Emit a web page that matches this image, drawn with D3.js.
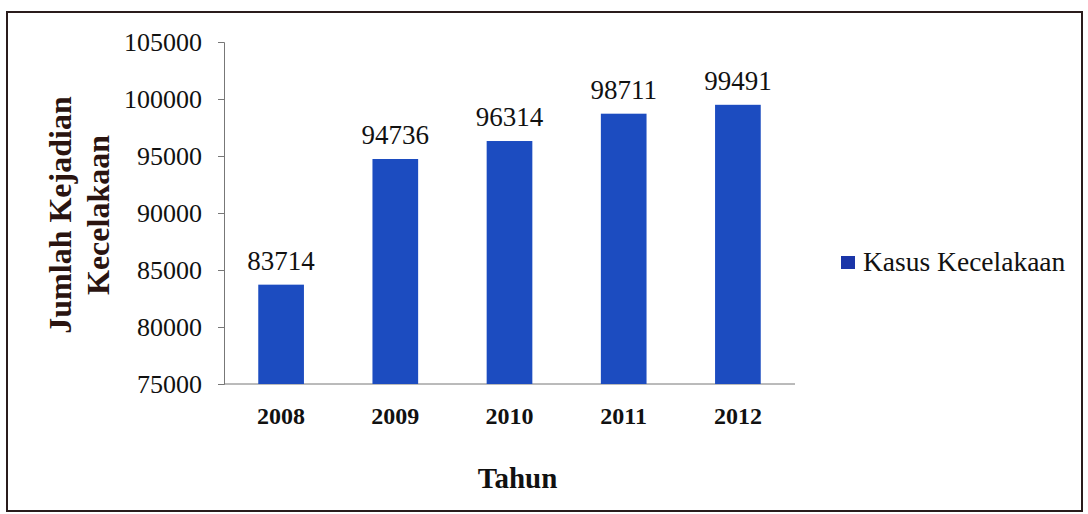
<!DOCTYPE html>
<html><head><meta charset="utf-8">
<script src="https://cdn.jsdelivr.net/npm/d3@7"></script>
<style>body{margin:0;background:#fff}svg{display:block}</style>
</head><body>
<svg id="c" width="1088" height="514"></svg>
<script>
const years = ["2008","2009","2010","2011","2012"];
const cases = [83714, 94736, 96314, 98711, 99491];
const yTicks = [75000, 80000, 85000, 90000, 95000, 100000, 105000];
const seriesName = "Kasus Kecelakaan";
const xTitle = "Tahun";
const yTitleLines = ["Jumlah Kejadian", "Kecelakaan"];

(function(){
const svg = d3.select("#c");
const font = "'Liberation Serif','Times New Roman',serif";
const barColor = "#1c4cc0";

svg.append("rect").attr("x",7).attr("y",12).attr("width",1075).attr("height",499)
  .attr("fill","#fff").attr("stroke","#2a1c1c").attr("stroke-width",2);

const pl = 224, pr = 795, pt = 42, pb = 384;
const x = d3.scaleBand().domain(years).range([pl,pr]).paddingInner(0.6).paddingOuter(0.3);
const y = d3.scaleLinear().domain([75000,105000]).range([pb,pt]);

const yAxis = svg.append("g").attr("transform",`translate(${pl},0)`)
  .call(d3.axisLeft(y).tickValues(yTicks).tickSize(6).tickPadding(16).tickFormat(d3.format("d")));
yAxis.select(".domain").attr("stroke","#777");
yAxis.selectAll(".tick line").attr("stroke","#777");
yAxis.selectAll("text").attr("font-family",font).attr("font-size",26).attr("fill","#111");

const xAxis = svg.append("g").attr("transform",`translate(0,${pb})`)
  .call(d3.axisBottom(x).tickSize(0).tickPadding(23).tickSizeOuter(0));
xAxis.select(".domain").attr("stroke","#777").attr("d",`M${pl},0H${pr}`);
xAxis.selectAll("text").attr("font-family",font).attr("font-size",24).attr("font-weight","bold").attr("fill","#111");

svg.append("g").selectAll("rect").data(years).join("rect")
  .attr("x",d=>x(d)).attr("width",x.bandwidth())
  .attr("y",(d,i)=>y(cases[i])).attr("height",(d,i)=>pb-y(cases[i]))
  .attr("fill",barColor);

svg.append("g").selectAll("text").data(years).join("text")
  .attr("x",d=>x(d)+x.bandwidth()/2).attr("y",(d,i)=>y(cases[i])-15)
  .attr("text-anchor","middle").attr("font-family",font).attr("font-size",27).attr("fill","#111")
  .text((d,i)=>cases[i]);

svg.append("text").attr("x",(pl+pr)/2+8).attr("y",488).attr("text-anchor","middle")
  .attr("font-family",font).attr("font-size",29).attr("font-weight","bold").attr("fill","#111").text(xTitle);

yTitleLines.forEach((t,i)=>{
  svg.append("text").attr("transform",`translate(${71+i*38},215) rotate(-90)`)
    .attr("text-anchor","middle").attr("font-family",font).attr("font-size",32).attr("font-weight","bold")
    .attr("fill","#2a1410").text(t);
});

const lg = svg.append("g").attr("transform","translate(841,256)");
lg.append("rect").attr("width",14).attr("height",13).attr("fill","#1a35a8");
lg.append("text").attr("x",22).attr("y",15).attr("font-family",font).attr("font-size",27.5).attr("fill","#111").text(seriesName);
})();
</script>
</body></html>
